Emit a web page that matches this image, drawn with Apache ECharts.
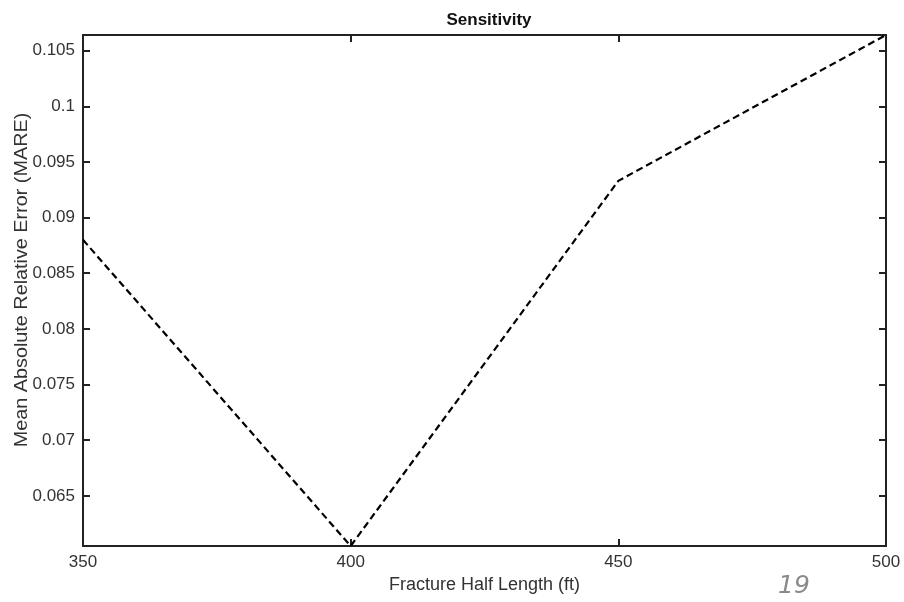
<!DOCTYPE html>
<html>
<head>
<meta charset="utf-8">
<script src="https://cdn.jsdelivr.net/npm/echarts@6/dist/echarts.min.js"></script>
<style>
  html, body { margin: 0; padding: 0; background: #fff; }
  #chart { width: 904px; height: 602px; }
</style>
</head>
<body>
<div id="chart"></div>
<script>
// Fracture half length (ft) vs. mean absolute relative error
const halfLengths = [350, 400, 450, 500];
const mareValues = [0.0880, 0.0605, 0.0933, 0.1064];
const yTicks = [0.065, 0.07, 0.075, 0.08, 0.085, 0.09, 0.095, 0.1, 0.105];
const xTicks = [350, 400, 450, 500];

const yMin = Math.min(...mareValues);
const yMax = Math.max(...mareValues);

const chart = echarts.init(document.getElementById('chart'));
const font = 'Liberation Sans, Arial, sans-serif';
const frame = '#222';

function yLabel(v) {
  return String(Number(v.toFixed(3)));
}

const baseY = {
  type: 'value', min: yMin, max: yMax,
  axisLine: { show: true, lineStyle: { color: frame, width: 2 } },
  axisTick: { show: true, inside: true, length: 7, customValues: yTicks, lineStyle: { color: frame, width: 2 } },
  splitLine: { show: false }
};
const baseX = {
  type: 'value', min: 350, max: 500, interval: 50,
  axisLine: { show: true, onZero: false, lineStyle: { color: frame, width: 2 } },
  axisTick: { show: true, inside: true, length: 7, customValues: xTicks, lineStyle: { color: frame, width: 2 } },
  splitLine: { show: false }
};

chart.setOption({
  animation: false,
  backgroundColor: '#fff',
  title: {
    text: 'Sensitivity', left: 484, top: 7, textAlign: 'center',
    textStyle: { fontFamily: font, fontWeight: 'bold', fontSize: 17, color: '#111' }
  },
  grid: { left: 83, right: 18, top: 35, bottom: 56, outerBoundsMode: 'none', containLabel: false },
  xAxis: [
    Object.assign({}, baseX, {
      position: 'bottom',
      name: 'Fracture Half Length (ft)', nameLocation: 'middle', nameGap: 26,
      nameTextStyle: { fontFamily: font, fontSize: 18, color: '#333' },
      axisLabel: { show: true, customValues: xTicks, margin: 8, fontFamily: font, fontSize: 17, color: '#333',
        formatter: v => String(v) }
    }),
    Object.assign({}, baseX, { position: 'top', axisLabel: { show: false } })
  ],
  yAxis: [
    Object.assign({}, baseY, {
      position: 'left',
      axisLabel: { show: true, customValues: yTicks, margin: 8, fontFamily: font, fontSize: 17, color: '#333',
        formatter: yLabel }
    }),
    Object.assign({}, baseY, { position: 'right', axisLabel: { show: false } })
  ],
  series: [{
    type: 'line',
    xAxisIndex: 0, yAxisIndex: 0,
    data: halfLengths.map((x, i) => [x, mareValues[i]]),
    showSymbol: false,
    lineStyle: { color: '#000', width: 2.2, type: [7, 4] },
    clip: false
  }],
  graphic: [{
    // vertical axis title, slightly elongated along its reading direction
    type: 'text', x: 22, y: 280, rotation: Math.PI / 2, scaleX: 1.1,
    style: {
      text: 'Mean Absolute Relative Error (MARE)', fontFamily: font, fontSize: 18, fill: '#333',
      align: 'center', verticalAlign: 'middle'
    }
  }, {
    type: 'text', left: 778, top: 574,
    style: { text: '19', fontFamily: 'DejaVu Sans, sans-serif', fontStyle: 'italic', fontSize: 25, fill: '#8a8a8a' }
  }]
});
</script>
</body>
</html>
